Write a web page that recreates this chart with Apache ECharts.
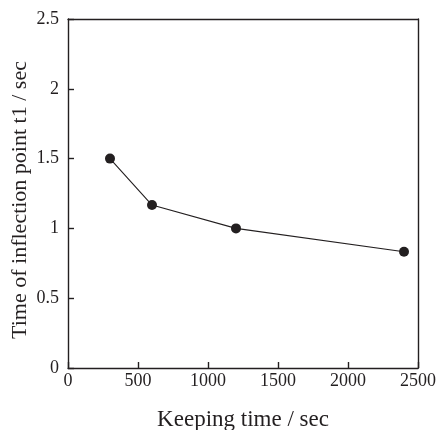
<!DOCTYPE html>
<html>
<head>
<meta charset="utf-8">
<script src="https://cdn.jsdelivr.net/npm/echarts@6/dist/echarts.min.js"></script>
<style>
  html, body { margin: 0; padding: 0; background: #fff; }
  #chart { width: 439px; height: 430px; }
</style>
</head>
<body>
<div id="chart"></div>
<script>
// Keeping time (sec) vs. time of the inflection point t1 (sec)
const keepingTime = [300, 600, 1200, 2400];
const inflectionTime = [1.5, 1.167, 1.0, 0.833];

const xTicks = [0, 500, 1000, 1500, 2000, 2500];
const yTicks = [0, 0.5, 1, 1.5, 2, 2.5];

const FONT = 'Liberation Serif';
const INK = '#231f20';

const chart = echarts.init(document.getElementById('chart'), null, { renderer: 'canvas' });

const lineStyle = { color: INK, width: 1.4 };

chart.setOption({
  backgroundColor: '#ffffff',
  animation: false,
  grid: {
    left: 68, right: 21, top: 19, bottom: 62,
    containLabel: false,
    outerBoundsMode: 'none'
  },
  xAxis: [
    {
      type: 'value',
      position: 'bottom',
      min: xTicks[0],
      max: xTicks[xTicks.length - 1],
      interval: 500,
      name: 'Keeping time / sec',
      nameLocation: 'middle',
      nameGap: 40,
      nameMoveOverlap: false,
      nameTextStyle: { fontFamily: FONT, fontSize: 23, color: INK },
      axisLine: { show: true, onZero: false, lineStyle },
      axisTick: { show: true, inside: true, length: 6, lineStyle },
      axisLabel: {
        fontFamily: FONT, fontSize: 18, color: INK, margin: 4,
        formatter: v => String(v)
      },
      splitLine: { show: false }
    },
    {
      type: 'value',
      position: 'top',
      min: xTicks[0],
      max: xTicks[xTicks.length - 1],
      axisLine: { show: true, onZero: false, lineStyle },
      axisTick: { show: false },
      axisLabel: { show: false },
      splitLine: { show: false }
    }
  ],
  yAxis: [
    {
      type: 'value',
      position: 'left',
      min: yTicks[0],
      max: yTicks[yTicks.length - 1],
      interval: 0.5,
      name: 'Time of inflection point t1 / sec',
      nameLocation: 'middle',
      nameGap: 37,
      nameMoveOverlap: false,
      nameTextStyle: {
        fontFamily: FONT, fontSize: 22, color: INK,
        padding: [0, 13, 0, 0]
      },
      axisLine: { show: true, onZero: false, lineStyle },
      axisTick: { show: true, inside: true, length: 6, lineStyle },
      axisLabel: {
        fontFamily: FONT, fontSize: 18, color: INK, margin: 9,
        formatter: v => String(v)
      },
      splitLine: { show: false }
    },
    {
      type: 'value',
      position: 'right',
      min: yTicks[0],
      max: yTicks[yTicks.length - 1],
      axisLine: { show: true, onZero: false, lineStyle },
      axisTick: { show: false },
      axisLabel: { show: false },
      splitLine: { show: false }
    }
  ],
  series: [
    {
      type: 'line',
      xAxisIndex: 0,
      yAxisIndex: 0,
      data: keepingTime.map((t, i) => [t, inflectionTime[i]]),
      symbol: 'circle',
      symbolSize: 10,
      itemStyle: { color: INK },
      lineStyle: { color: INK, width: 1.1 }
    }
  ]
});
</script>
</body>
</html>
